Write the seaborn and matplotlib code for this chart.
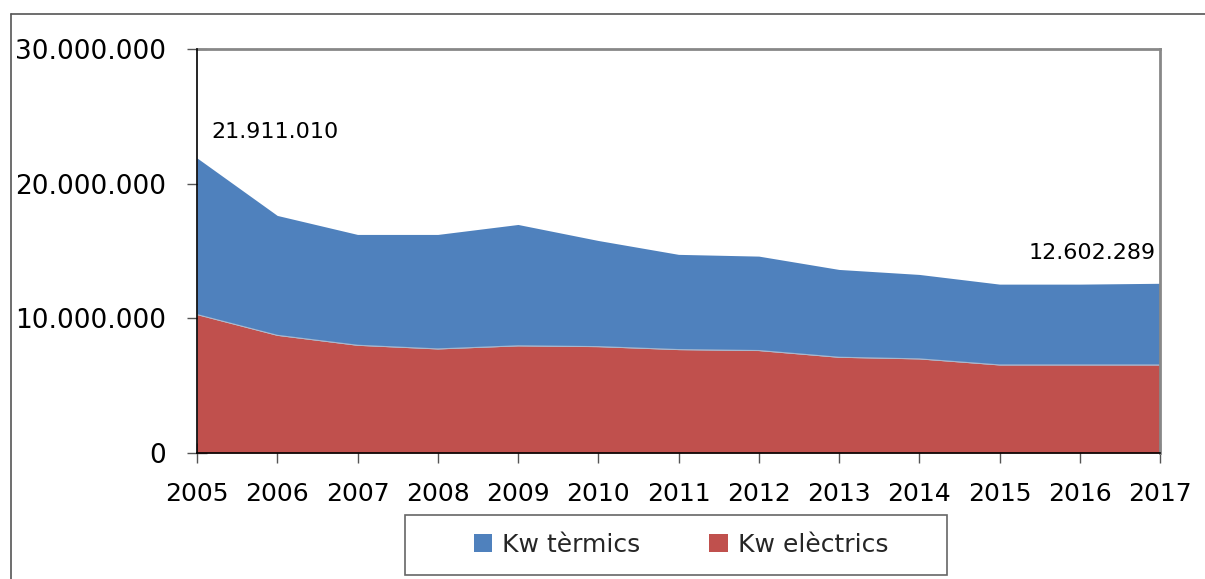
import matplotlib
matplotlib.use("Agg")
import matplotlib.pyplot as plt
import seaborn as sns
import numpy as np
from matplotlib.lines import Line2D
from matplotlib.patches import Patch, Rectangle

years = ["2005", "2006", "2007", "2008", "2009", "2010", "2011",
         "2012", "2013", "2014", "2015", "2016", "2017"]
kw_electrics = [10280000, 8740000, 8000000, 7730000, 7960000, 7900000, 7680000,
                7610000, 7110000, 6990000, 6540000, 6540000, 6540000]
kw_total = [21911010, 17640000, 16230000, 16230000, 16970000, 15780000, 14750000,
            14620000, 13630000, 13260000, 12540000, 12540000, 12602289]
kw_termics = [t - e for t, e in zip(kw_total, kw_electrics)]
yticks = [0, 10000000, 20000000, 30000000]
ytick_labels = ["0", "10.000.000", "20.000.000", "30.000.000"]
label_first = "21.911.010"
label_last = "12.602.289"

sns.set_theme(style="white")
plt.rcParams['font.family'] = ['DejaVu Sans']

BLUE = "#4F81BD"
RED = "#C0504D"

W, H = 1205, 579
fig = plt.figure(figsize=(W / 100, H / 100), dpi=100)
ax = fig.add_axes([197 / W, 1 - 453 / H, (1160 - 197) / W, (453 - 49) / H])

x = np.arange(len(years))
bottom = np.array(kw_electrics, dtype=float)
top = bottom + np.array(kw_termics, dtype=float)
ax.fill_between(x, 0, bottom, color=RED, linewidth=0)
ax.fill_between(x, bottom, top, color=BLUE, linewidth=0)
sns.lineplot(x=x, y=bottom, ax=ax, color="#d9d9d9", linewidth=0.8, alpha=0.6, legend=False)

ax.set_xlim(0, len(years) - 1)
ax.set_ylim(0, 30000000)
ax.set_xticks(x)
ax.set_xticklabels(years)
ax.set_yticks(yticks)
ax.set_yticklabels(ytick_labels)
ax.tick_params(axis="both", which="major", bottom=True, left=True, top=False, right=False,
               direction="inout", length=14, width=1, color="#555555", labelcolor="black")
ax.tick_params(axis="y", pad=15.5, labelsize=19)
ax.tick_params(axis="x", pad=14, labelsize=18)
ax.grid(False)

for s in ["top", "right"]:
    ax.spines[s].set_color("#888888")
    ax.spines[s].set_linewidth(2)
for s in ["left", "bottom"]:
    ax.spines[s].set_color("black")
    ax.spines[s].set_linewidth(1.2)
    ax.spines[s].set_zorder(5)

ax.annotate(label_first, xy=(0, kw_total[0]), xytext=(10, 19), textcoords="offset points",
            ha="left", va="center", fontsize=16, color="black")
ax.annotate(label_last, xy=(len(years) - 1, kw_total[-1]), xytext=(-3, 22),
            textcoords="offset points", ha="right", va="center", fontsize=16, color="black")

handles = [Patch(facecolor=BLUE, edgecolor="none", label="Kw tèrmics"),
           Patch(facecolor=RED, edgecolor="none", label="Kw elèctrics")]
leg = fig.legend(handles=handles, loc="center", ncol=2,
                 bbox_to_anchor=(410 / W, 4 / H, 542 / W, 60 / H),
                 frameon=False, fontsize=18,
                 handlelength=0.75, handleheight=0.75, handletextpad=0.4,
                 columnspacing=2.75, borderaxespad=0)
fig.add_artist(Rectangle((405 / W, 4 / H), 542 / W, 60 / H, transform=fig.transFigure,
                         facecolor="none", edgecolor="#666666", linewidth=1.2))

# outer chart frame (top and left edges visible)
fig.add_artist(Line2D([10.5 / W, 10.5 / W], [0, 1 - 14 / H], transform=fig.transFigure,
                      color="#555555", linewidth=1.2))
fig.add_artist(Line2D([10.5 / W, 1], [1 - 14 / H, 1 - 14 / H], transform=fig.transFigure,
                      color="#555555", linewidth=1.2))

fig.savefig("out.png", dpi=100, facecolor="white")
